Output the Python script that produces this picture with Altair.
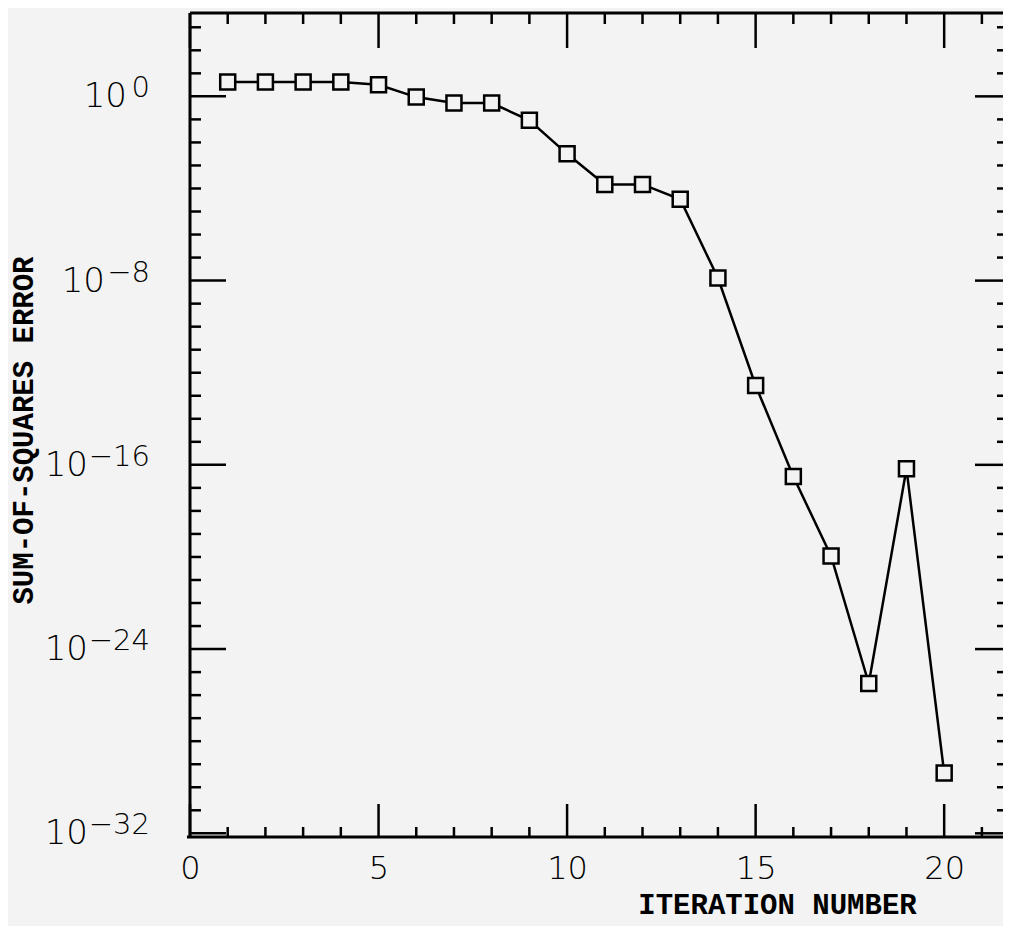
import altair as alt
import pandas as pd

# ---- data ----
iterations = list(range(1, 21))
errors = [4.2, 4.2, 4.2, 4.2, 3.2, 0.93, 0.51, 0.51, 0.091, 3.2e-3,
          1.5e-4, 1.5e-4, 3.4e-5, 1.3e-8, 2.8e-13, 3.1e-17, 1.1e-20, 3.2e-26,
          6.8e-17, 4.2e-30]

x_major = [0, 5, 10, 15, 20]
x_minor = [1, 2, 3, 4, 6, 7, 8, 9, 11, 12, 13, 14, 16, 17, 18, 19, 21]
y_major_exp = [0, -8, -16, -24, -32]
y_minor_exp = [e for e in range(3, -32, -1) if e not in y_major_exp]

X_DOMAIN = [0, 21.56]
Y_DOMAIN = [10 ** -32.16, 10 ** 3.62]

W, H = 813, 824
BG = "#f3f3f3"
LW = 2.5
LABEL_FONT = "DejaVu Sans"
TITLE_FONT = "Liberation Mono"

xs = alt.Scale(domain=X_DOMAIN, nice=False, zero=False)
ys = alt.Scale(type="log", domain=Y_DOMAIN, nice=False)

X_AXIS = alt.Axis(values=x_major, grid=False, domain=False, ticks=False, tickSize=0,
                  labelFont=LABEL_FONT, labelFontSize=32, labelFontWeight=200,
                  labelColor="black", labelPadding=16, labelFlush=False,
                  title="ITERATION NUMBER", titleFont=TITLE_FONT, titleFontSize=29,
                  titleFontWeight="bold", titleColor="black",
                  titleX=587, titleY=76, titleBaseline="alphabetic",
                  titleAlign="center")
Y_AXIS = alt.Axis(labels=False, grid=False, domain=False, ticks=False,
                  title="SUM-OF-SQUARES ERROR", titleFont=TITLE_FONT, titleFontSize=29,
                  titleFontWeight="bold", titleColor="black",
                  titleX=-167, titleY=417, titleAngle=270,
                  titleAlign="center", titleBaseline="middle")


def X(field):
    return alt.X(field, scale=xs, axis=X_AXIS)


def Y(field):
    return alt.Y(field, scale=ys, axis=Y_AXIS)


df = pd.DataFrame({"iter": iterations, "err": errors})

line = alt.Chart(df).mark_line(color="black", strokeWidth=LW).encode(
    x=X("iter:Q"), y=Y("err:Q"))

pts = alt.Chart(df).mark_point(shape="square", filled=True, fill=BG, stroke="black",
                               strokeWidth=LW, size=225, opacity=1).encode(
    x=X("iter:Q"), y=Y("err:Q"))

one = pd.DataFrame({"a": [0]})
frame_left = alt.Chart(one).mark_rule(color="black", strokeWidth=3).encode(
    x=alt.value(0), y=alt.value(0), y2=alt.value(H))
frame_top = alt.Chart(one).mark_rule(color="black", strokeWidth=3).encode(
    x=alt.value(0), x2=alt.value(W), y=alt.value(0))
frame_bottom = alt.Chart(one).mark_rule(color="black", strokeWidth=3).encode(
    x=alt.value(-3), x2=alt.value(W), y=alt.value(H))

xmaj = pd.DataFrame({"x": x_major})
xmin = pd.DataFrame({"x": x_minor})
ymaj = pd.DataFrame({"y": [10.0 ** e for e in y_major_exp]})
ymin = pd.DataFrame({"y": [10.0 ** e for e in y_minor_exp]})


def xticks(d, y0, y1):
    return alt.Chart(d).mark_rule(color="black", strokeWidth=LW).encode(
        x=X("x:Q"), y=alt.value(y0), y2=alt.value(y1))


def yticks(d, x0, x1):
    return alt.Chart(d).mark_rule(color="black", strokeWidth=LW).encode(
        y=Y("y:Q"), x=alt.value(x0), x2=alt.value(x1))


ticks = [
    xticks(xmaj, H, H - 33), xticks(xmin, H, H - 10),
    xticks(xmaj, 0, 35), xticks(xmin, 0, 11),
    yticks(ymaj, 0, 36), yticks(ymin, 0, 11),
    yticks(ymaj, W, W - 28), yticks(ymin, W, W - 6),
]

lab = pd.DataFrame({"y": [10.0 ** e for e in y_major_exp],
                    "exp": [str(e).replace("-", "\u2212") for e in y_major_exp]})

exp_text = alt.Chart(lab).mark_text(align="right", baseline="alphabetic", dx=-40, dy=1,
                                    font=LABEL_FONT, fontSize=29, fontWeight=200,
                                    color="black").encode(
    x=alt.value(0), y=Y("y:Q"), text="exp:N")

base_layers = []
for L, dx in [(1, -63), (2, -85), (3, -102)]:
    base_layers.append(
        alt.Chart(lab).transform_filter(f"length(datum.exp) == {L}")
        .mark_text(align="right", baseline="alphabetic", dx=dx, dy=11, text="10",
                   font=LABEL_FONT, fontSize=34, fontWeight=200, color="black")
        .encode(x=alt.value(0), y=Y("y:Q"))
    )

chart = alt.layer(line, pts, frame_left, frame_top, frame_bottom, *ticks, exp_text,
                  *base_layers).properties(
    width=W, height=H,
    autosize=alt.AutoSizeParams(type="none"),
    padding={"left": 182, "top": 5, "right": 0, "bottom": 89},
    background=BG,
).configure_view(stroke=None)

chart.save("out.html", embed_options={"renderer": "svg", "actions": False})
